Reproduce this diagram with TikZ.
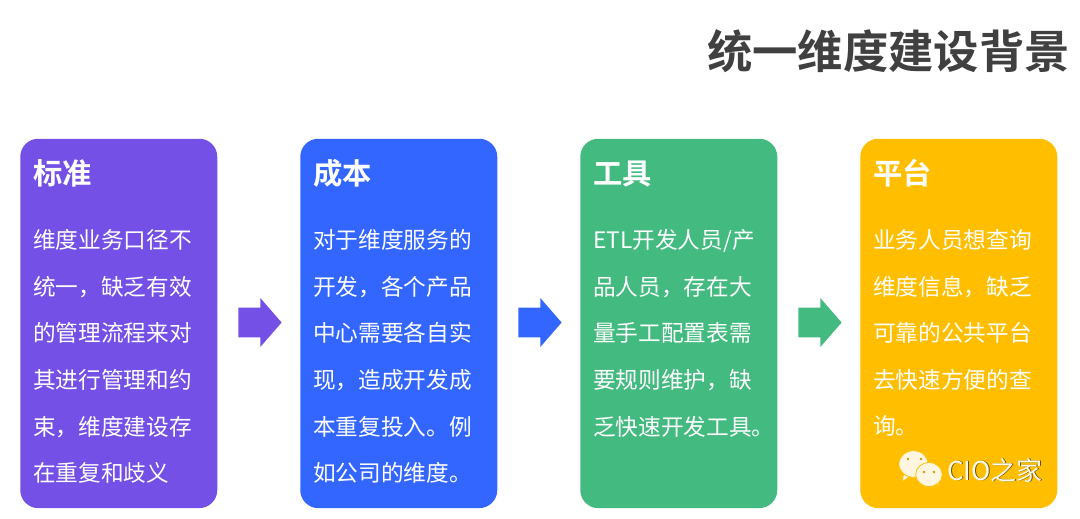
\documentclass[tikz,border=0pt]{standalone}
\usepackage{fontspec}
\setmainfont{Noto Sans CJK SC}[BoldFont={Noto Sans CJK SC Bold}]
\usetikzlibrary{shapes.arrows,shapes.geometric}
\definecolor{col_std}{HTML}{7450E6}
\definecolor{col_cost}{HTML}{3366FF}
\definecolor{col_tool}{HTML}{43BA7F}
\definecolor{col_plat}{HTML}{FFBF00}
\definecolor{col_title}{HTML}{404040}
\definecolor{col_icon}{HTML}{FFF6E2}
\tikzstyle{node_card} = [draw=none, rounded corners=13.5pt, minimum width=147.75pt, minimum height=277pt, inner sep=0pt, anchor=north west]
\tikzstyle{node_head} = [text=white, inner sep=0pt, anchor=base west, font=\fontsize{22}{26}\selectfont\bfseries]
\tikzstyle{node_body} = [text=white, inner sep=0pt, anchor=north west, align=left, font=\fontsize{17}{34.9}\selectfont]
\tikzstyle{node_arrow} = [single arrow, draw=none, inner xsep=0pt, inner ysep=10.9pt, minimum height=32.5pt, single arrow head extend=7.2pt, single arrow tip angle=98, shape border rotate=0]
\tikzstyle{edge_bubble} = [fill=col_icon, draw=col_plat, line width=0.6pt]

\begin{document}
\begin{tikzpicture}[x=0.75pt,y=-0.75pt]
\useasboundingbox (0,0) rectangle (1080,518);

\node (title) at (1070,68) [text=col_title, inner sep=0pt, anchor=base east, font=\fontsize{34}{40}\selectfont\bfseries] {统一维度建设背景};

\node (std) at (20,138.5) [node_card, fill=col_std] {};
\node (cost) at (300,138.5) [node_card, fill=col_cost] {};
\node (tool) at (580,138.5) [node_card, fill=col_tool] {};
\node (plat) at (860,138.5) [node_card, fill=col_plat] {};

\node (stdhead) at (33,184) [node_head] {标准};
\node (costhead) at (313,184) [node_head] {成本};
\node (toolhead) at (593,184) [node_head] {工具};
\node (plathead) at (873,184) [node_head] {平台};

\node (stdbody) at (33,229.5) [node_body] {维度业务口径不\\统一，缺乏有效\\的管理流程来对\\其进行管理和约\\束，维度建设存\\在重复和歧义};
\node (costbody) at (313,229.5) [node_body] {对于维度服务的\\开发，各个产品\\中心需要各自实\\现，造成开发成\\本重复投入。例\\如公司的维度。};
\node (toolbody) at (593,229.5) [node_body] {ETL开发人员/产\\品人员，存在大\\量手工配置表需\\要规则维护，缺\\乏快速开发工具。};
\node (platbody) at (873,229.5) [node_body] {业务人员想查询\\维度信息，缺乏\\可靠的公共平台\\去快速方便的查\\询。};

\node (arrow1) at (253.5,322.5) [node_arrow, fill=col_std] {};
\node (arrow2) at (533.5,322.5) [node_arrow, fill=col_cost] {};
\node (arrow3) at (813.5,322.5) [node_arrow, fill=col_tool] {};

% wechat mark
\draw[edge_bubble] (904,472) -- (902,482) -- (912,475) -- cycle;
\node (bubble1) at (913.5,464) [ellipse, edge_bubble, minimum width=22pt, minimum height=20pt, inner sep=0pt] {};
\draw[edge_bubble] (934,481) -- (939,487) -- (938,478) -- cycle;
\node (bubble2) at (929,474.5) [ellipse, edge_bubble, minimum width=20pt, minimum height=18pt, inner sep=0pt] {};
\fill[col_plat!80!black] (908,459) circle (1.4) (921,459) circle (1.4) (924,472) circle (1.3) (934,472) circle (1.3);
\node (marksh) at (947.8,480.8) [text=black!60!col_plat, inner sep=0pt, anchor=base west, font=\fontsize{19.5}{22}\selectfont] {CIO之家};
\node (mark) at (947,480) [text=white!92!col_plat, inner sep=0pt, anchor=base west, font=\fontsize{19.5}{22}\selectfont] {CIO之家};
\end{tikzpicture}
\end{document}
